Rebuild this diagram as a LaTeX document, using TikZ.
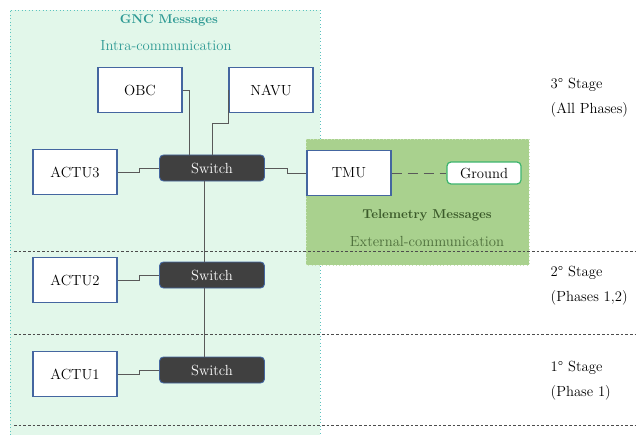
\documentclass[tikz,border=0pt]{standalone}
\usepackage{tikz}
\definecolor{gncfill}{HTML}{E2F7EA}
\definecolor{gncline}{HTML}{5CC4C0}
\definecolor{gnctext}{HTML}{2E9A94}
\definecolor{tmfill}{HTML}{A9D18E}
\definecolor{tmline}{HTML}{C9E3B8}
\definecolor{tmtext}{HTML}{3B5A2A}
\definecolor{boxline}{HTML}{4466A0}
\definecolor{swfill}{HTML}{404040}
\definecolor{gndline}{HTML}{3CB46E}

\begin{document}
\begin{tikzpicture}[x=0.75pt,y=-0.75pt,font=\fontsize{11}{13}\selectfont]
  \tikzstyle{unit}=[draw=boxline,fill=white,line width=0.9pt,minimum width=63pt,minimum height=33.75pt,inner sep=0pt]
  \tikzstyle{switch}=[draw=boxline,fill=swfill,text=white,line width=0.7pt,rounded corners=3pt,minimum width=78.75pt,minimum height=19.5pt,inner sep=0pt]
  \tikzstyle{link}=[draw=black!65,line width=0.7pt]
  \tikzstyle{stageline}=[black!70,line width=0.5pt,dash pattern=on 2pt off 1.5pt]
  \tikzstyle{stage}=[anchor=west,align=left,font=\fontsize{11}{18.75}\selectfont]
  \tikzstyle{title}=[font=\fontsize{9.6}{12}\selectfont\bfseries]
  \useasboundingbox (0,0) rectangle (636,435);

  % message regions
  \fill[gncfill] (10,10) rectangle (320,435);
  \draw[gncline,dotted,line width=0.6pt] (10,435) |- (320,10) -- (320,435);
  \filldraw[fill=tmfill,draw=tmline,dotted,line width=0.6pt] (306,139) rectangle (529,265);

  \node[title,text=gnctext] (gnctitle) at (169,20) {GNC Messages};
  \node[text=gnctext] (gncsub) at (166,46) {Intra-communication};
  \node[title,text=tmtext] (tmtitle) at (427,215) {Telemetry Messages};
  \node[text=tmtext!85!tmfill] (tmsub) at (427,241) {External-communication};

  % stages
  \draw[stageline] (14,251) -- (636,251);
  \draw[stageline] (14,334) -- (636,334);
  \draw[stageline] (14,425) -- (636,425);
  \node[stage] (st3) at (546,98) {3° Stage\\(All Phases)};
  \node[stage] (st2) at (546,286) {2° Stage\\(Phases 1,2)};
  \node[stage] (st1) at (546,381) {1° Stage\\(Phase 1)};

  % units
  \node[unit] (obc) at (140,90) {OBC};
  \node[unit] (navu) at (271,90) {NAVU};
  \node[unit] (actu3) at (75,172) {ACTU3};
  \node[unit] (tmu) at (349,173) {TMU};
  \node[unit] (actu2) at (75,280) {ACTU2};
  \node[unit] (actu1) at (75,374) {ACTU1};
  \node[draw=gndline,fill=white,line width=0.9pt,rounded corners=3pt,minimum width=55.5pt,minimum height=16.5pt,inner sep=0pt] (ground) at (484,173) {Ground};

  \node[switch] (sw3) at (212,168) {Switch};
  \node[switch] (sw2) at (212,275) {Switch};
  \node[switch] (sw1) at (212,370) {Switch};

  % links
  \draw[link] (obc.east) -| ([xshift=22.5pt]sw3.north west);
  \draw[link] (navu.west) -- ++(0,33) -| (sw3.north);
  \draw[link] (actu3.east) -- ++(22,0) |- (sw3.west);
  \draw[link] (sw3.east) -- ++(22,0) |- (tmu.west);
  \draw[link,dash pattern=on 8pt off 4pt] (tmu.east) -- (ground.west);
  \draw[link] ([xshift=-6pt]sw3.south) -- ([xshift=-6pt]sw2.north);
  \draw[link] ([xshift=-6pt]sw2.south) -- ([xshift=-6pt]sw1.north);
  \draw[link] (actu2.east) -- ++(22,0) |- (sw2.west);
  \draw[link] (actu1.east) -- ++(22,0) |- (sw1.west);
\end{tikzpicture}
\end{document}
